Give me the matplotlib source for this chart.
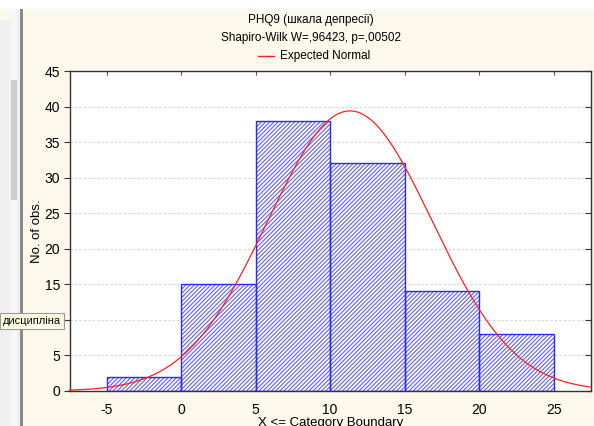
import numpy as np
import matplotlib
matplotlib.use("Agg")
import matplotlib.pyplot as plt
from matplotlib.patches import Rectangle

plt.rcParams['font.family'] = ['Liberation Sans', 'DejaVu Sans']
plt.rcParams['hatch.linewidth'] = 0.9
plt.rcParams['axes.unicode_minus'] = False

# Data
bin_edges = [-5, 0, 5, 10, 15, 20, 25]
counts = [2, 15, 38, 32, 14, 8]
n_obs = sum(counts)
fit_mean = 11.33
fit_sd = 5.52
x_ticks = [-5, 0, 5, 10, 15, 20, 25]
y_ticks = [0, 5, 10, 15, 20, 25, 30, 35, 40, 45]

title1 = "PHQ9 (шкала депресії)"
title2 = "Shapiro-Wilk W=,96423, p=,00502"
legend_label = "Expected Normal"
xlabel = "X <= Category Boundary"
ylabel = "No. of obs."

W, H = 594, 426
fig = plt.figure(figsize=(W / 100, H / 100), dpi=100)
fig.patch.set_facecolor('#fdf8ec')

def fy(y):
    return 1 - y / H

# left UI strip
fig.patches.append(Rectangle((0, 0), 20 / W, fy(9), transform=fig.transFigure,
                             facecolor='#f0f0f0', edgecolor='none', zorder=0))
fig.patches.append(Rectangle((11 / W, 0), 6 / W, fy(9), transform=fig.transFigure,
                             facecolor='#f7f7f7', edgecolor='none', zorder=0))
fig.patches.append(Rectangle((11 / W, fy(200)), 6 / W, 120 / H, transform=fig.transFigure,
                             facecolor='#cdcdcd', edgecolor='none', zorder=0))
fig.patches.append(Rectangle((20 / W, 0), 3 / W, fy(9), transform=fig.transFigure,
                             facecolor='#8a8a8a', edgecolor='none', zorder=0))
fig.patches.append(Rectangle((0, fy(9)), 1, 9 / H, transform=fig.transFigure,
                             facecolor='white', edgecolor='none', zorder=0))
fig.patches.append(Rectangle((0, fy(20)), 11 / W, 11 / H, transform=fig.transFigure,
                             facecolor='#fdf8ec', edgecolor='none', zorder=0))

ax = fig.add_axes([70 / W, 35 / H, (591 - 70) / W, (391 - 71) / H])
ax.set_facecolor('white')

widths = np.diff(bin_edges)
ax.bar(bin_edges[:-1], counts, width=widths, align='edge', facecolor='white',
       edgecolor='#7070f0', hatch='////////', linewidth=0, zorder=2)
ax.bar(bin_edges[:-1], counts, width=widths, align='edge', facecolor='none',
       edgecolor='#2a2aff', linewidth=1.0, zorder=2.5)

xs = np.linspace(-7.5, 27.5, 400)
ys = n_obs * widths[0] / (fit_sd * np.sqrt(2 * np.pi)) * np.exp(-(xs - fit_mean) ** 2 / (2 * fit_sd ** 2))
ax.plot(xs, ys, color='#ff2020', linewidth=0.9, zorder=3, clip_on=False)

ax.set_xlim(-7.45, 27.5)
ax.set_ylim(0, 45)
ax.set_xticks(x_ticks)
ax.set_yticks(y_ticks)
ax.yaxis.grid(True, linestyle=(0, (2, 2)), color='#d2d2d2', linewidth=0.8, zorder=1)
ax.set_axisbelow(True)
for s in ax.spines.values():
    s.set_color('#333333')
    s.set_linewidth(1.0)
ax.tick_params(axis='y', which='both', direction='out', length=4, color='#333333',
               labelsize=10, right=True, labelright=False, pad=3)
ax.tick_params(axis='x', which='both', direction='in', length=3, color='#555555',
               labelsize=10, top=True, bottom=False, pad=9)
for t in ax.yaxis.get_major_ticks():
    t.tick2line.set_markersize(4)
    t.tick2line.set_marker(0)  # inward tick on right side

fig.text(37 / W, fy(231), ylabel, rotation=90, ha='center', va='center', fontsize=9.5)
fig.text(331 / W, fy(423), xlabel, ha='center', va='center', fontsize=9.5)

fig.text(311 / W, fy(20), title1, ha='center', va='center', fontsize=8.5)
fig.text(311 / W, fy(38), title2, ha='center', va='center', fontsize=8.5)
fig.lines.append(plt.Line2D([258 / W, 274 / W], [fy(56), fy(56)], transform=fig.transFigure,
                            color='#ff2020', linewidth=1.0))
fig.text(280 / W, fy(56), legend_label, ha='left', va='center', fontsize=8.5)

# tooltip
fig.text(3 / W, fy(321), "дисципліна", ha='left', va='center', fontsize=8, zorder=10,
         bbox=dict(boxstyle='square,pad=0.25', facecolor='#ffffe6', edgecolor='#9a9a9a', linewidth=0.8))

fig.savefig('out.png', dpi=100, facecolor=fig.get_facecolor())
